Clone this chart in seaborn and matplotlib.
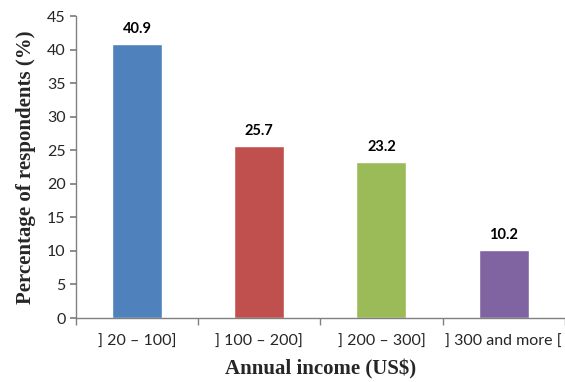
import matplotlib
matplotlib.use("Agg")
import matplotlib.pyplot as plt
import seaborn as sns
import pandas as pd
import numpy as np

# data
categories = ["] 20 \u2013 100]", "] 100 \u2013 200]", "] 200 \u2013 300]", "] 300 and more ["]
percentages = [40.9, 25.7, 23.2, 10.2]
bar_colors = ["#4F81BD", "#C0504D", "#9BBB59", "#8064A2"]

df = pd.DataFrame({"income": categories, "pct": percentages})

sns.set_theme(style="white")
plt.rcParams["font.family"] = ["Lato", "DejaVu Sans"]

fig = plt.figure(figsize=(5.65, 3.82), dpi=100)
ax = fig.add_axes([0.1345, 0.1675, 0.865, 0.79])

sns.barplot(data=df, x="income", y="pct", hue="income", palette=bar_colors,
            width=0.41, legend=False, ax=ax, saturation=1)

for i, v in enumerate(percentages):
    ax.text(i, v + 1.2, f"{v:.1f}", ha="center", va="bottom",
            fontsize=10.5, fontweight="bold", color="black")

ax.set_ylim(0, 45)
ax.set_xlim(-0.5, 3.5)
ax.set_yticks(range(0, 46, 5))
ax.tick_params(axis="y", labelsize=11.5, length=4, direction="out", left=True, color="#808080")
ax.tick_params(axis="x", which="major", labelsize=11.5, length=0, pad=12)
ax.set_xticks(np.arange(-0.5, 3.6, 1), minor=True)
ax.tick_params(axis="x", which="minor", length=5, direction="out", bottom=True, color="#808080")

sns.despine(ax=ax)
for s in ["left", "bottom"]:
    ax.spines[s].set_color("#808080")
    ax.spines[s].set_linewidth(1)

ax.set_xlabel("Annual income (US$)", fontsize=15, fontweight="bold",
              family="Liberation Serif", labelpad=8)
ax.set_ylabel("Percentage of respondents (%)", fontsize=15, fontweight="bold",
              family="Liberation Serif", labelpad=8)

fig.savefig("out.png", dpi=100)
